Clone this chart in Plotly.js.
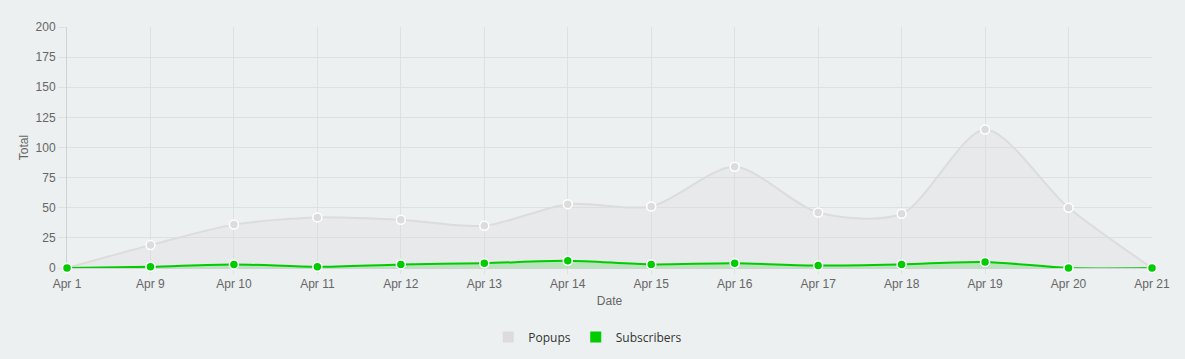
<!DOCTYPE html>
<html><head><meta charset="utf-8">
<script src="https://cdn.plot.ly/plotly-3.0.1.min.js"></script>
<style>html,body{margin:0;padding:0;background:#ecf0f1;}#chart{width:1185px;height:359px;}</style>
</head><body><div id="chart"></div>
<script>
const dates = ["Apr 1","Apr 9","Apr 10","Apr 11","Apr 12","Apr 13","Apr 14","Apr 15","Apr 16","Apr 17","Apr 18","Apr 19","Apr 20","Apr 21"];
const popups = [0,19,36,42,40,35,53,51,84,46,45,115,50,0];
const subscribers = [0,1,3,1,3,4,6,3,4,2,3,5,0,0];
const yTicks = [0,25,50,75,100,125,150,175,200];

const popColor = "#dcdcdc";
const subColor = "#00cc00";

const traces = [
  {x: dates, y: popups, type: "scatter", mode: "lines+markers", name: "Popups",
   line: {shape: "spline", smoothing: 0.8, color: popColor, width: 2},
   fill: "tozeroy", fillcolor: "rgba(220,220,220,0.3)", cliponaxis: false,
   marker: {size: 9, color: popColor, line: {color: "#ffffff", width: 1.5}},
   showlegend: false, hoverinfo: "skip"},
  {x: dates, y: subscribers, type: "scatter", mode: "lines+markers", name: "Subscribers",
   line: {shape: "spline", smoothing: 0.8, color: subColor, width: 2},
   fill: "tozeroy", fillcolor: "rgba(0,204,0,0.2)", cliponaxis: false,
   marker: {size: 9, color: subColor, line: {color: "#ffffff", width: 1.5}},
   showlegend: false, hoverinfo: "skip"},
  {x: [null], y: [null], type: "scatter", mode: "markers", name: "Popups",
   marker: {symbol: "square", size: 11, color: popColor}},
  {x: [null], y: [null], type: "scatter", mode: "markers", name: "Subscribers",
   marker: {symbol: "square", size: 11, color: subColor}}
];

const layout = {
  width: 1185, height: 359,
  paper_bgcolor: "#ecf0f1", plot_bgcolor: "#ecf0f1",
  margin: {l: 67, r: 33, t: 27, b: 91, autoexpand: false},
  font: {family: "Liberation Sans, Arial, sans-serif", size: 12, color: "#666"},
  xaxis: {
    type: "category", range: [0, dates.length - 1],
    showgrid: true, gridcolor: "#dde1e2", gridwidth: 1,
    showline: true, linecolor: "#cfd3d4", linewidth: 1,
    ticks: "outside", ticklen: 5, tickcolor: "#dde1e2",
    tickfont: {size: 12, color: "#666"},
    title: {text: "Date", font: {size: 12, color: "#666"}, standoff: 6},
    zeroline: false, fixedrange: true, layer: "below traces"
  },
  yaxis: {
    range: [0, 200], tickvals: yTicks,
    showgrid: true, gridcolor: "#dde1e2", gridwidth: 1,
    showline: true, linecolor: "#cfd3d4", linewidth: 1,
    ticks: "outside", ticklen: 8, tickcolor: "#dde1e2",
    tickfont: {size: 12, color: "#666"},
    title: {text: "Total", font: {size: 12, color: "#666"}, standoff: 4},
    zeroline: false, fixedrange: true, layer: "below traces"
  },
  legend: {orientation: "h", x: 0.496, xanchor: "center", xref: "container",
    y: 0.061, yanchor: "middle", yref: "container",
    font: {family: "Open Sans, sans-serif", size: 12, color: "#333"},
    itemwidth: 30, tracegroupgap: 0, bgcolor: "rgba(0,0,0,0)"},
  showlegend: true
};

Plotly.newPlot("chart", traces, layout, {displayModeBar: false, staticPlot: true});
</script>
</body></html>
